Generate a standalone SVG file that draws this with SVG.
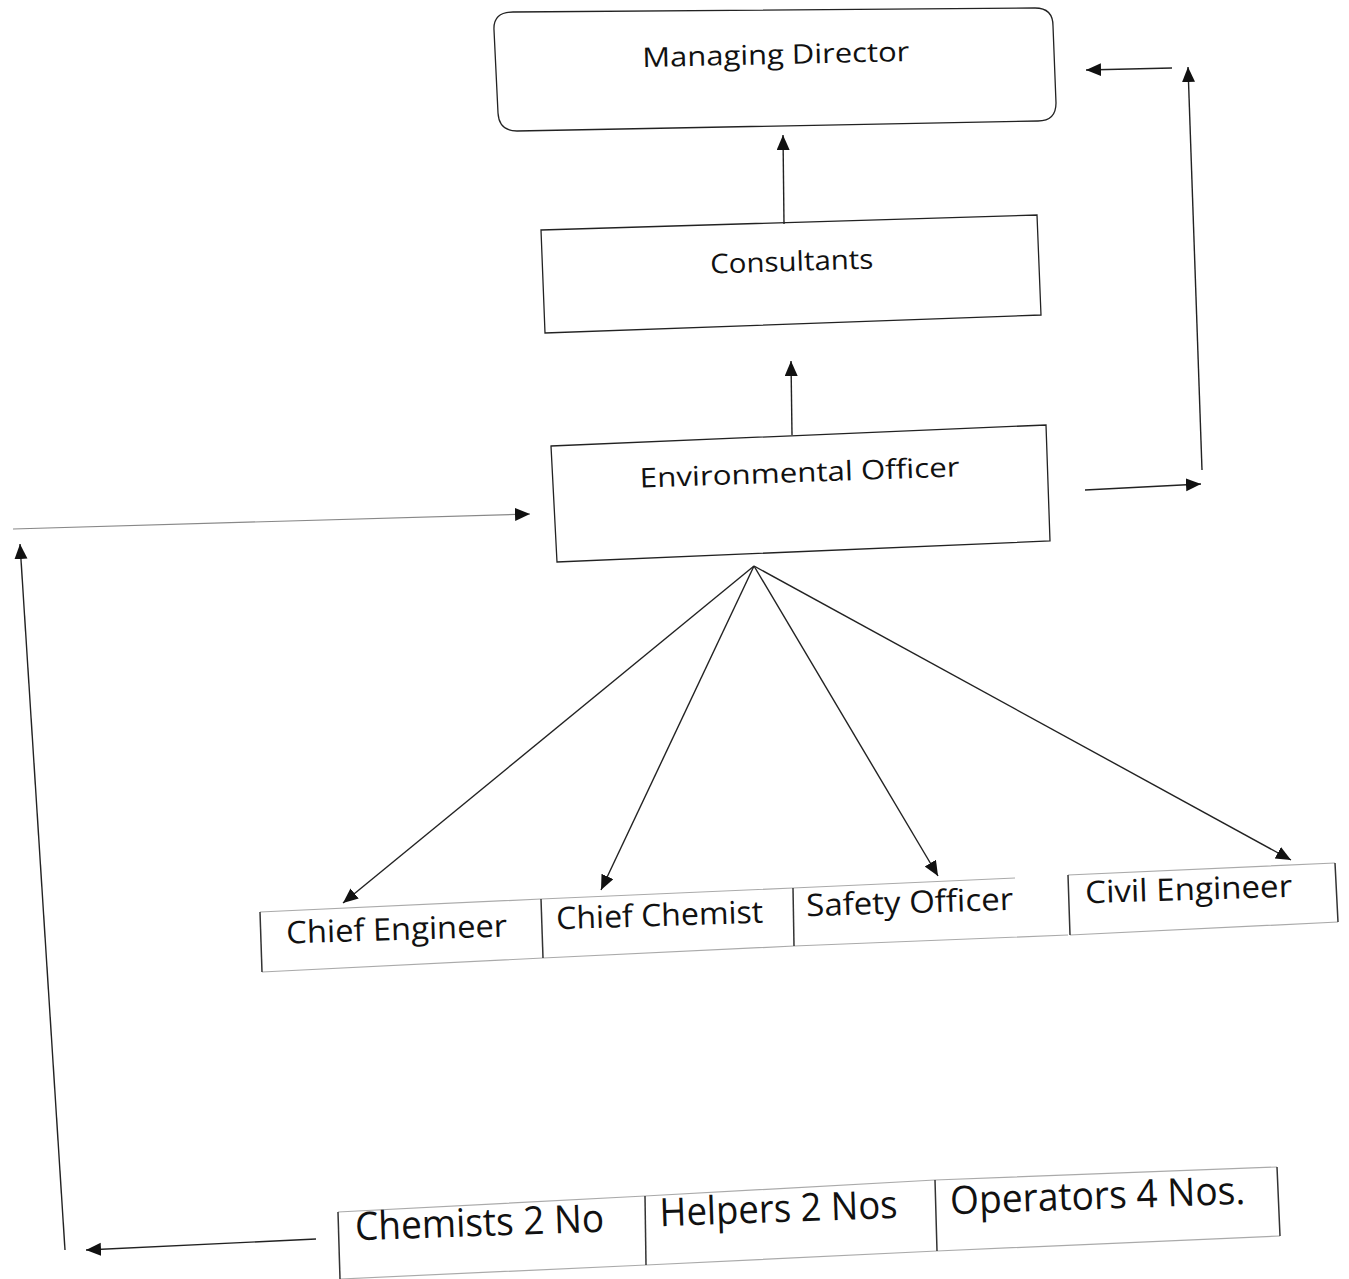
<svg xmlns="http://www.w3.org/2000/svg" width="1349" height="1279" viewBox="0 0 1349 1279">
<defs>
<marker id="ah" markerWidth="16" markerHeight="14" refX="15" refY="6.5" orient="auto" markerUnits="userSpaceOnUse">
<path d="M0,0 L15,6.5 L0,13 z" fill="#111"/>
</marker>
<style>
.box{fill:none;stroke:#222;stroke-width:1.3}
.faint{stroke:#aaa;stroke-width:1.2;fill:none}
.dark{stroke:#333;stroke-width:1.5;fill:none}
.con{stroke:#222;stroke-width:1.4;fill:none;marker-end:url(#ah)}
.con2{stroke:#888;stroke-width:1.2;fill:none;marker-end:url(#ah)}
.t1{font-family:"Open Sans","DejaVu Sans",sans-serif;font-size:27px;fill:#111;text-anchor:middle}
.t2{font-family:"Open Sans","DejaVu Sans",sans-serif;font-size:31px;fill:#111;text-anchor:middle}
.t3{font-family:"Open Sans","DejaVu Sans",sans-serif;font-size:39px;fill:#111;text-anchor:middle}
</style>
</defs>
<rect width="1349" height="1279" fill="#fff"/>

<g id="managing-director">
<path class="box" d="M513,12 L1035,8 Q1053,8 1053,26 L1056,103 Q1056,121 1038,121 L517,131 Q499,131 498,113 L494,30 Q493,12 513,12 Z"/>
<text class="t1" x="776" y="64" transform="rotate(-1.3 776 64)" textLength="267" lengthAdjust="spacingAndGlyphs">Managing Director</text>
</g>

<g id="consultants">
<path class="box" d="M541,230 L1037,215 L1041,315 L545,333 Z"/>
<text class="t1" x="792" y="271" transform="rotate(-1.8 792 271)" textLength="163" lengthAdjust="spacingAndGlyphs">Consultants</text>
</g>

<g id="environmental-officer">
<path class="box" d="M551,446 L1046,425 L1050,541 L557,562 Z"/>
<text class="t1" x="800" y="482" transform="rotate(-2 800 482)" textLength="320" lengthAdjust="spacingAndGlyphs">Environmental Officer</text>
</g>

<g id="chief-engineer">
<path class="faint" d="M260,912 L541,899 M262,972 L543,958"/>
<path class="dark" d="M260,912 L262,972"/>
<text class="t2" x="397" y="940" transform="rotate(-1.8 397 940)" textLength="221" lengthAdjust="spacingAndGlyphs">Chief Engineer</text>
</g>

<g id="chief-chemist">
<path class="faint" d="M541,899 L793,888 M543,958 L794,946"/>
<path class="dark" d="M541,899 L543,958"/>
<text class="t2" x="660" y="926" transform="rotate(-1.8 660 926)" textLength="207" lengthAdjust="spacingAndGlyphs">Chief Chemist</text>
</g>

<g id="safety-officer">
<path class="faint" d="M793,888 L1015,878 M794,946 L1068,935"/>
<path class="dark" d="M793,888 L794,946"/>
<text class="t2" x="910" y="913" transform="rotate(-1.8 910 913)" textLength="207" lengthAdjust="spacingAndGlyphs">Safety Officer</text>
</g>

<g id="civil-engineer">
<path class="faint" d="M1068,875 L1335,863 M1070,935 L1338,922"/>
<path class="dark" d="M1068,875 L1070,935 M1335,863 L1338,922"/>
<text class="t2" x="1189" y="900" transform="rotate(-1.8 1189 900)" textLength="207" lengthAdjust="spacingAndGlyphs">Civil Engineer</text>
</g>

<g id="chemists">
<path class="faint" d="M338,1212 L645,1196 M340,1279 L646,1265"/>
<path class="dark" d="M338,1212 L340,1279"/>
<text class="t3" x="480" y="1236" transform="rotate(-2 480 1236)" textLength="249" lengthAdjust="spacingAndGlyphs">Chemists 2 No</text>
</g>

<g id="helpers">
<path class="faint" d="M645,1196 L935,1180 M646,1265 L937,1251"/>
<path class="dark" d="M645,1196 L646,1265"/>
<text class="t3" x="779" y="1222" transform="rotate(-2 779 1222)" textLength="238" lengthAdjust="spacingAndGlyphs">Helpers 2 Nos</text>
</g>

<g id="operators">
<path class="faint" d="M935,1180 L1277,1167 M937,1251 L1280,1236"/>
<path class="dark" d="M935,1180 L937,1251 M1277,1167 L1280,1236"/>
<text class="t3" x="1098" y="1209" transform="rotate(-2 1098 1209)" textLength="295" lengthAdjust="spacingAndGlyphs">Operators 4 Nos.</text>
</g>

<g id="connectors">
<line class="con" x1="784" y1="224" x2="783" y2="135"/>
<line class="con" x1="792" y1="435" x2="791" y2="361"/>
<line class="con" x1="754" y1="566" x2="343" y2="903"/>
<line class="con" x1="754" y1="566" x2="601" y2="890"/>
<line class="con" x1="754" y1="566" x2="938" y2="876"/>
<line class="con" x1="754" y1="566" x2="1291" y2="860"/>
<line class="con" x1="1085" y1="490" x2="1201" y2="484"/>
<line class="con" x1="1202" y1="470" x2="1188" y2="67"/>
<line class="con" x1="1172" y1="68" x2="1086" y2="70"/>
<line class="con2" x1="13" y1="529" x2="530" y2="514"/>
<line class="con" x1="65" y1="1250" x2="20" y2="544"/>
<line class="con" x1="316" y1="1239" x2="86" y2="1250"/>
</g>
</svg>
